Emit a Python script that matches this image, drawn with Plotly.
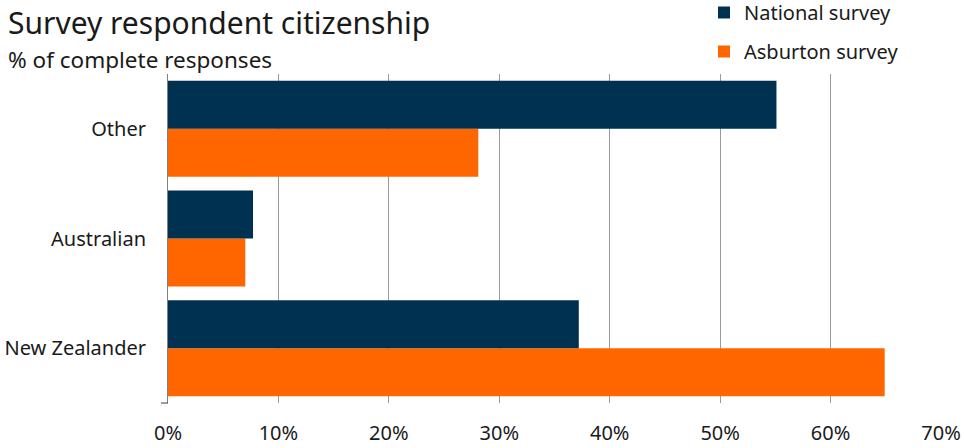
import plotly.graph_objects as go

categories = ["New Zealander", "Australian", "Other"]
national = [37.2, 7.7, 55.1]
asburton = [64.9, 7.0, 28.1]
tick_vals = [0, 10, 20, 30, 40, 50, 60, 70]
tick_text = ["0%", "10%", "20%", "30%", "40%", "50%", "60%", "70%"]

FONT = "Noto Sans"
NAVY = "#003150"
ORANGE = "#FF6600"
W, H = 964, 448
ML, MR, MT, MB = 168, 23, 74, 45
PW = W - ML - MR
PH = H - MT - MB

fig = go.Figure()
fig.add_trace(go.Bar(
    y=categories, x=asburton, orientation="h", name="Asburton survey",
    marker=dict(color=ORANGE, line=dict(width=0)),
    legendgroup="a", legendrank=2,
))
fig.add_trace(go.Bar(
    y=categories, x=national, orientation="h", name="National survey",
    marker=dict(color=NAVY, line=dict(width=0)),
    legendgroup="n", legendrank=1,
))

fig.update_layout(
    width=W, height=H,
    margin=dict(l=ML, r=MR, t=MT, b=MB, autoexpand=False),
    paper_bgcolor="white", plot_bgcolor="white",
    barmode="group", bargap=0.125, bargroupgap=0,
    font=dict(family=FONT, size=20, color="#1a1a1a"),
    showlegend=True,
    legend=dict(
        x=(704 - ML) / PW, xref="paper", y=1 + (MT + 7) / PH, yref="paper",
        yanchor="top", xanchor="left",
        font=dict(size=20, family=FONT, color="#1a1a1a"),
        traceorder="grouped", tracegroupgap=10, itemwidth=30,
        bgcolor="rgba(0,0,0,0)",
    ),
    xaxis=dict(
        range=[0, 70], tickvals=tick_vals, ticktext=tick_text,
        showgrid=True, gridcolor="#9a9a9a", gridwidth=1,
        zeroline=False, showline=False, ticks="", automargin=False,
        ticklabelstandoff=16, fixedrange=True,
        tickfont=dict(size=20, family=FONT),
    ),
    yaxis=dict(
        categoryorder="array", categoryarray=categories,
        showline=True, linecolor="#808080", linewidth=1, automargin=False,
        showgrid=False, ticks="", ticklabelstandoff=17, fixedrange=True,
        tickfont=dict(size=20, family=FONT),
    ),
)
fig.add_annotation(
    text="Survey respondent citizenship", xref="paper", yref="paper",
    x=(6 - ML) / PW, y=1 + (MT - 23) / PH,
    xanchor="left", yanchor="middle", showarrow=False,
    font=dict(size=30, family=FONT, color="#1a1a1a"),
)
fig.add_annotation(
    text="% of complete responses", xref="paper", yref="paper",
    x=(6 - ML) / PW, y=1 + (MT - 59) / PH,
    xanchor="left", yanchor="middle", showarrow=False,
    font=dict(size=22.5, family=FONT, color="#1a1a1a"),
)
fig.add_shape(type="line", xref="paper", yref="paper",
              x0=-7 / PW, x1=0, y0=0, y1=0,
              line=dict(color="#404040", width=1))

fig.write_html(
    "out.html",
    config={"displayModeBar": False},
    post_script="document.body.style.margin='0';document.body.style.padding='0';",
)
